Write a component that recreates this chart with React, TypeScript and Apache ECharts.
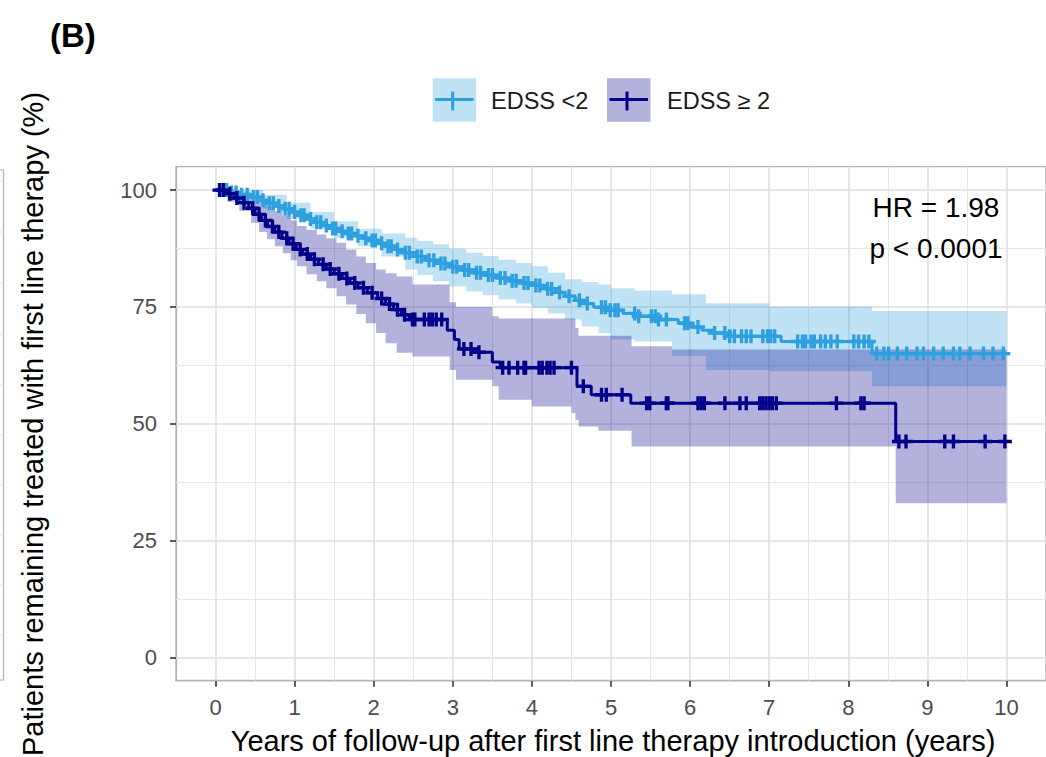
import React, { useEffect, useRef } from "react";
import * as echarts from "echarts";

// ---------- data ----------
const xTicks = [0, 1, 2, 3, 4, 5, 6, 7, 8, 9, 10];
const yTicks = [0, 25, 50, 75, 100];
const xMinorGrid = [0.5, 1.5, 2.5, 3.5, 4.5, 5.5, 6.5, 7.5, 8.5, 9.5];
const yMinorGrid = [12.5, 37.5, 62.5, 87.5];

// EDSS < 2 : Kaplan-Meier steps
const lowTimes = [0, 0.15, 0.3, 0.45, 0.55, 0.65, 0.75, 0.85, 0.95, 1.05, 1.15, 1.25, 1.35, 1.45, 1.55, 1.65, 1.75, 1.85, 1.95, 2.05, 2.15, 2.25, 2.35, 2.5, 2.65, 2.8, 2.95, 3.1, 3.25, 3.4, 3.55, 3.7, 3.85, 4.0, 4.15, 4.3, 4.42, 4.55, 4.65, 4.78, 4.95, 5.15, 5.35, 5.6, 5.85, 6.0, 6.15, 6.3, 6.5, 7.15, 8.3, 10.0];
const lowSurv = [100, 99.5, 99, 98.5, 97.8, 97.2, 96.6, 96, 95.3, 94.6, 93.8, 93.1, 92.4, 91.8, 91.2, 90.7, 90.2, 89.7, 89.2, 88.6, 88.0, 87.3, 86.6, 85.8, 85.0, 84.3, 83.6, 82.9, 82.3, 81.8, 81.2, 80.6, 80.1, 79.6, 78.9, 78.1, 77.3, 76.4, 75.7, 74.9, 74.3, 73.6, 73.0, 72.3, 71.5, 70.7, 70.0, 69.4, 68.7, 67.6, 65.0, 65.0];
const lowCensor = [0.08, 0.14, 0.2, 0.26, 0.33, 0.4, 0.48, 0.53, 0.6, 0.68, 0.73, 0.8, 0.88, 0.93, 1.0, 1.08, 1.12, 1.2, 1.28, 1.33, 1.4, 1.48, 1.52, 1.6, 1.68, 1.72, 1.8, 1.9, 1.98, 2.02, 2.1, 2.18, 2.22, 2.3, 2.4, 2.45, 2.55, 2.6, 2.7, 2.76, 2.85, 2.9, 3.0, 3.05, 3.15, 3.2, 3.3, 3.35, 3.45, 3.5, 3.6, 3.66, 3.75, 3.8, 3.9, 3.95, 4.05, 4.1, 4.2, 4.25, 4.35, 4.47, 4.6, 4.7, 4.88, 4.93, 4.99, 5.05, 5.09, 5.3, 5.35, 5.51, 5.56, 5.6, 5.7, 5.93, 5.97, 6.1, 6.31, 6.44, 6.5, 6.56, 6.65, 6.71, 6.77, 6.92, 6.98, 7.02, 7.07, 7.36, 7.42, 7.46, 7.53, 7.57, 7.65, 7.71, 7.78, 7.86, 8.07, 8.13, 8.2, 8.26, 8.36, 8.45, 8.51, 8.62, 8.74, 8.87, 8.95, 9.08, 9.2, 9.33, 9.41, 9.54, 9.71, 9.83, 9.96];
const lowBandTimes = [0, 0.3, 0.6, 0.9, 1.2, 1.5, 1.8, 2.1, 2.4, 2.55, 2.75, 2.95, 3.17, 3.38, 3.58, 3.8, 4.0, 4.2, 4.42, 4.63, 4.84, 5.0, 5.3, 5.77, 6.2, 7.0, 8.3, 10.0];
const lowBandLower = [100, 98, 96.0, 93.8, 91.8, 89.8, 88.0, 85.8, 83, 81.8, 80.5, 79.4, 78.3, 77.5, 76.6, 75.7, 74.8, 73.6, 72.3, 70.8, 69.4, 68.0, 67.6, 64.5, 61.5, 61.2, 58.0, 58.0];
const lowBandUpper = [100, 100, 99.0, 97.3, 95.3, 93.3, 91.7, 90.7, 89.8, 89.1, 88.4, 87.5, 86.6, 85.9, 85.1, 84.4, 83.7, 82.3, 80.9, 80.3, 79.8, 79.0, 78.5, 77.7, 75.8, 75.1, 74.1, 74.1];

// EDSS >= 2 : Kaplan-Meier steps
const highTimes = [0, 0.12, 0.22, 0.32, 0.42, 0.5, 0.58, 0.66, 0.75, 0.84, 0.93, 1.02, 1.1, 1.2, 1.3, 1.4, 1.5, 1.6, 1.7, 1.8, 1.92, 2.05, 2.15, 2.25, 2.35, 2.45, 2.93, 3.02, 3.08, 3.3, 3.5, 3.6, 4.57, 4.75, 5.25, 8.6, 10.0];
const highSurv = [100, 99.2, 98.3, 97.3, 96.1, 94.8, 93.5, 92.2, 91.0, 89.7, 88.5, 87.3, 86.3, 85.2, 84.1, 83.1, 82.1, 81.1, 80.1, 79.1, 78.0, 76.8, 75.6, 74.4, 73.3, 72.3, 70.0, 68.0, 66.0, 65.3, 63.2, 62.0, 58.0, 56.2, 54.4, 46.2, 46.2];
const highCensor = [0.05, 0.1, 0.18, 0.27, 0.36, 0.47, 0.55, 0.63, 0.72, 0.8, 0.9, 0.98, 1.07, 1.16, 1.25, 1.36, 1.45, 1.56, 1.66, 1.76, 1.87, 1.98, 2.1, 2.2, 2.3, 2.39, 2.49, 2.52, 2.64, 2.7, 2.74, 2.79, 2.86, 3.14, 3.23, 3.33, 3.63, 3.71, 3.82, 3.9, 3.92, 4.09, 4.13, 4.19, 4.23, 4.28, 4.5, 4.65, 4.88, 4.94, 5.14, 5.45, 5.49, 5.7, 5.72, 6.1, 6.14, 6.18, 6.44, 6.63, 6.71, 6.88, 6.92, 6.96, 7.0, 7.04, 7.09, 7.85, 8.16, 8.2, 8.64, 8.73, 9.22, 9.33, 9.73, 9.98];
const highBandTimes = [0, 0.15, 0.3, 0.45, 0.55, 0.65, 0.75, 0.85, 0.95, 1.03, 1.15, 1.28, 1.4, 1.53, 1.65, 1.78, 1.9, 2.03, 2.15, 2.29, 2.49, 2.96, 3.04, 3.5, 3.58, 4.0, 4.5, 4.55, 4.59, 4.84, 5.26, 5.77, 8.6, 10.0];
const highBandLower = [100, 97.5, 95.5, 93, 91, 89.5, 88, 86.5, 85, 83.7, 82, 80.5, 79, 77.3, 75.5, 73.5, 71.5, 69.4, 67.2, 65.2, 64.4, 61.5, 59.4, 58.0, 55.1, 53.7, 52.3, 50.8, 49.4, 48.5, 45.1, 45.1, 33.0, 33.0];
const highBandUpper = [100, 100, 99.5, 98.5, 97.5, 96.5, 95.5, 94.5, 93.5, 92.3, 91.5, 90.5, 89.7, 88.7, 87.3, 85.8, 84.4, 83.0, 82.2, 81.5, 79.8, 76.0, 75.0, 73.0, 72.5, 72.5, 72.5, 70.5, 68.8, 68.8, 66.6, 65.9, 65.9, 65.9];

const groupNames = ["EDSS <2", "EDSS \u2265 2"];
const annotationLines = ["HR = 1.98", "p < 0.0001"];

// ---------- styling ----------
const LOW_COLOR = "#2E9FDF";
const HIGH_COLOR = "#00008B";
const FONT = "Liberation Sans, Arial, sans-serif";
const PLUS = "path://M3.8,0h2.4v3.8h3.8v2.4h-3.8v3.8h-2.4v-3.8h-3.8v-2.4h3.8z";

function survAt(times: number[], vals: number[], t: number) {
  let v = vals[0];
  for (let i = 0; i < times.length; i++) {
    if (times[i] <= t) v = vals[i];
  }
  return v;
}

function ribbon(times: number[], lo: number[], hi: number[], fill: string, z: number) {
  return {
    type: "custom",
    coordinateSystem: "cartesian2d",
    silent: true,
    z,
    data: [[times[0], lo[0]]],
    renderItem: (_p: any, api: any) => {
      const n = times.length;
      const pts: number[][] = [];
      for (let i = 0; i < n; i++) {
        const tn = i < n - 1 ? times[i + 1] : times[i];
        pts.push(api.coord([times[i], hi[i]]));
        pts.push(api.coord([tn, hi[i]]));
      }
      for (let i = n - 1; i >= 0; i--) {
        const tn = i < n - 1 ? times[i + 1] : times[i];
        pts.push(api.coord([tn, lo[i]]));
        pts.push(api.coord([times[i], lo[i]]));
      }
      return { type: "polygon", shape: { points: pts }, style: { fill, stroke: "none" } };
    },
  };
}

function kmLine(times: number[], surv: number[], color: string) {
  return {
    type: "line",
    step: "end",
    silent: true,
    z: 4,
    showSymbol: false,
    symbol: "none",
    data: times.map((t, i) => [t, surv[i]]),
    lineStyle: { color, width: 3 },
  };
}

function censorMarks(times: number[], surv: number[], censor: number[], color: string) {
  return {
    type: "scatter",
    silent: true,
    z: 5,
    symbol: PLUS,
    symbolSize: 14,
    itemStyle: { color, opacity: 1 },
    data: censor.map((t) => [t, survAt(times, surv, t)]),
  };
}

function gridLines(xs: number[], ys: number[], width: number, color: string) {
  return {
    type: "line",
    silent: true,
    data: [],
    markLine: {
      silent: true,
      z: 1,
      symbol: ["none", "none"],
      label: { show: false },
      lineStyle: { color, width, type: "solid" },
      emphasis: { disabled: true },
      data: [...xs.map((v) => ({ xAxis: v })), ...ys.map((v) => ({ yAxis: v }))],
    },
  };
}

export default function App() {
  const ref = useRef<HTMLDivElement>(null);
  useEffect(() => {
    if (!ref.current) return;
    const chart = echarts.init(ref.current, undefined, { renderer: "svg" });

    const legendItems: any[] = [];
    const legendBoxes = [
      { x: 432.7, textX: 491, color: LOW_COLOR, fill: "rgba(46,159,223,0.3)" },
      { x: 607, textX: 667, color: HIGH_COLOR, fill: "rgba(0,0,139,0.3)" },
    ];
    legendBoxes.forEach((b, i) => {
      legendItems.push(
        { type: "rect", z: 100, shape: { x: b.x, y: 78.3, width: 43.5, height: 43.4 }, style: { fill: b.fill } },
        { type: "line", z: 101, shape: { x1: b.x + 2.5, y1: 99.5, x2: b.x + 41, y2: 99.5 }, style: { stroke: b.color, lineWidth: 3 } },
        { type: "line", z: 101, shape: { x1: b.x + 20, y1: 91.5, x2: b.x + 20, y2: 110.5 }, style: { stroke: b.color, lineWidth: 3 } },
        {
          type: "text",
          z: 101,
          x: b.textX,
          y: 101,
          style: { text: groupNames[i], font: `23.5px ${FONT}`, fill: "#1A1A1A", align: "left", verticalAlign: "middle", textAlign: "left", textVerticalAlign: "middle" },
        }
      );
    });

    const leftStub: any[] = [
      { type: "rect", z: 100, shape: { x: -6, y: 170, width: 9.5, height: 510 }, style: { fill: "none", stroke: "#B3B3B3", lineWidth: 1.2 } },
      ...[181, 232, 283, 334, 385, 435, 485, 535, 585, 635].map((yy) => ({
        type: "line",
        z: 100,
        shape: { x1: -6, y1: yy, x2: 3.5, y2: yy },
        style: { stroke: "#E3E3E3", lineWidth: 1 },
      })),
    ];

    chart.setOption({
      animation: false,
      backgroundColor: "#FFFFFF",
      grid: {
        left: 176,
        top: 166.7,
        width: 874,
        height: 514,
        show: true,
        borderColor: "#B3B3B3",
        borderWidth: 1.3,
        backgroundColor: "transparent",
        containLabel: false,
      },
      xAxis: {
        type: "value",
        min: -0.5,
        max: 10.5,
        position: "bottom",
        axisLine: { show: true, onZero: false, lineStyle: { color: "#B3B3B3", width: 1.3 } },
        splitLine: { show: false },
        axisTick: { show: true, inside: false, customValues: xTicks, length: 6, lineStyle: { color: "#333333", width: 1.6 } },
        axisLabel: { show: true, customValues: xTicks, fontSize: 22, color: "#4D4D4D", fontFamily: FONT, margin: 16 },
      },
      yAxis: {
        type: "value",
        min: -5,
        max: 105,
        position: "left",
        axisLine: { show: true, onZero: false, lineStyle: { color: "#B3B3B3", width: 1.3 } },
        splitLine: { show: false },
        axisTick: { show: true, inside: false, customValues: yTicks, length: 6, lineStyle: { color: "#333333", width: 1.6 } },
        axisLabel: { show: true, customValues: yTicks, fontSize: 22, color: "#4D4D4D", fontFamily: FONT, margin: 19 },
      },
      graphic: [
        {
          type: "text",
          z: 100,
          x: 50,
          y: 35,
          style: { text: "(B)", font: `bold 33px ${FONT}`, fill: "#000000", align: "left", verticalAlign: "middle", textAlign: "left", textVerticalAlign: "middle" },
        },
        {
          type: "text",
          z: 100,
          x: 613,
          y: 741,
          style: { text: "Years of follow-up after first line therapy introduction (years)", font: `29px ${FONT}`, fill: "#000000", align: "center", verticalAlign: "middle", textAlign: "center", textVerticalAlign: "middle" },
        },
        {
          type: "text",
          z: 100,
          x: 33,
          y: 424,
          rotation: Math.PI / 2,
          style: { text: "Patients remaining treated with first line therapy (%)", font: `29px ${FONT}`, fill: "#000000", align: "center", verticalAlign: "middle", textAlign: "center", textVerticalAlign: "middle" },
        },
        ...annotationLines.map((s, i) => ({
          type: "text",
          z: 100,
          x: 936,
          y: 207 + i * 41.6,
          style: { text: s, font: `28px ${FONT}`, fill: "#000000", align: "center", verticalAlign: "middle", textAlign: "center", textVerticalAlign: "middle" },
        })),
        ...legendItems,
        ...leftStub,
      ],
      series: [
        gridLines(xTicks, yTicks, 1.5, "#DEDEDE"),
        gridLines(xMinorGrid, yMinorGrid, 1.0, "#E6E6E6"),
        ribbon(lowBandTimes, lowBandLower, lowBandUpper, "rgba(46,159,223,0.3)", 2),
        ribbon(highBandTimes, highBandLower, highBandUpper, "rgba(0,0,139,0.3)", 3),
        kmLine(lowTimes, lowSurv, LOW_COLOR),
        kmLine(highTimes, highSurv, HIGH_COLOR),
        censorMarks(lowTimes, lowSurv, lowCensor, LOW_COLOR),
        censorMarks(highTimes, highSurv, highCensor, HIGH_COLOR),
      ],
    });
    return () => chart.dispose();
  }, []);

  return <div ref={ref} style={{ position: "absolute", left: 0, top: 0, width: 1046, height: 757 }} />;
}
